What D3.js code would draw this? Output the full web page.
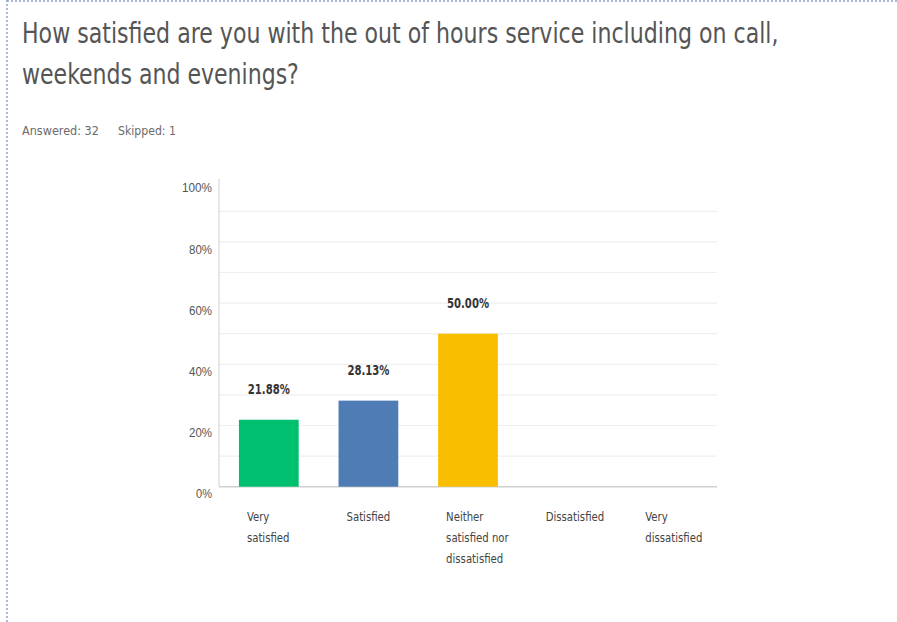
<!DOCTYPE html>
<html><head><meta charset="utf-8">
<script src="https://cdn.jsdelivr.net/npm/d3@7"></script>
<style>
html,body{margin:0;padding:0;background:#fff;}
svg{display:block;font-family:"Liberation Sans Narrow","DejaVu Sans Condensed","Roboto",sans-serif;}
</style></head><body>
<svg id="c" width="897" height="622"></svg>
<script>
const categories = [["Very","satisfied"],["Satisfied"],["Neither","satisfied nor","dissatisfied"],["Dissatisfied"],["Very","dissatisfied"]];
const values = [21.88, 28.13, 50.00, 0, 0];
const colors = ["#00bf6f","#507cb6","#f9be00","#6bc8cd","#ff8b4f"];
const tickValues = [0,20,40,60,80,100];
const gridValues = [10,20,30,40,50,60,70,80,90];
const titleLines = ["How satisfied are you with the out of hours service including on call,","weekends and evenings?"];
const meta = ["Answered: 32","Skipped: 1"];

const svg = d3.select("#c");
// dotted frame
svg.append("line").attr("x1",7).attr("x2",897).attr("y1",1).attr("y2",1)
  .attr("stroke","#8ea3c6").attr("stroke-width",1.5).attr("stroke-dasharray","2,2");
svg.append("line").attr("x1",7).attr("x2",7).attr("y1",0).attr("y2",622)
  .attr("stroke","#8ea3c6").attr("stroke-width",1.5).attr("stroke-dasharray","2,2");

// text squeezed horizontally to a target width via a transform
function fitText(str, xPos, yPos, size, width, fill){
  const g = svg.append("g");
  const t = g.append("text").attr("x",0).attr("y",0).attr("font-size",size).attr("fill",fill).text(str);
  const w = t.node().getComputedTextLength();
  g.attr("transform",`translate(${xPos},${yPos}) scale(${Math.min(1,width/w)},1)`);
  return t;
}
fitText(titleLines[0],22,43,29,757,"#555");
fitText(titleLines[1],22,84,29,277,"#555");
fitText(meta[0],22,135,12.5,77,"#6b6b6b");
fitText(meta[1],118,135,12.5,58,"#6b6b6b");

const x0 = 219, x1 = 717, yTop = 180.7, yBot = 486.7;
const x = d3.scaleBand().domain(d3.range(categories.length)).range([x0,x1]).paddingInner(0.4).paddingOuter(0.2);
const y = d3.scaleLinear().domain([0,100]).range([yBot,yTop]);

// gridlines
svg.append("g").selectAll("line").data(gridValues).join("line")
  .attr("x1",x0).attr("x2",x1).attr("y1",d=>y(d)).attr("y2",d=>y(d))
  .attr("stroke","#efefef").attr("stroke-width",1.2);

// y axis
const yAxis = d3.axisLeft(y).tickValues(tickValues).tickFormat(d=>d+"%").tickSize(0).tickPadding(7);
const ga = svg.append("g").attr("transform",`translate(${x0},0)`).call(yAxis);
ga.select(".domain").remove();
ga.selectAll("text").attr("font-size",12.5).attr("fill","#555").attr("dy","0.9em")
  .style("font-family","inherit").attr("textLength",function(){return this.textContent.length===4?30:(this.textContent.length===3?23:16);})
  .attr("lengthAdjust","spacingAndGlyphs");
svg.append("line").attr("x1",x0).attr("x2",x0).attr("y1",179).attr("y2",yBot).attr("stroke","#d0d0d0").attr("stroke-width",1);
svg.append("line").attr("x1",x0).attr("x2",x1).attr("y1",yBot).attr("y2",yBot).attr("stroke","#d0d0d0").attr("stroke-width",1.5);

// bars
svg.append("g").selectAll("rect").data(values).join("rect")
  .attr("x",(d,i)=>x(i)).attr("width",x.bandwidth())
  .attr("y",d=>y(d)).attr("height",d=>yBot-y(d)).attr("fill",(d,i)=>colors[i]);

// value labels
svg.append("g").selectAll("text").data(values.map((v,i)=>({v,i})).filter(d=>d.v>0)).join("text")
  .attr("x",d=>x(d.i)+x.bandwidth()/2).attr("y",d=>y(d.v)-26)
  .attr("text-anchor","middle").attr("font-size",14).attr("fill","#333").attr("font-weight",600)
  .attr("textLength",42).attr("lengthAdjust","spacingAndGlyphs")
  .text(d=>d.v.toFixed(2)+"%");

// category labels
const cg = svg.append("g");
categories.forEach((lines,i)=>{
  const t = cg.append("text").attr("x",x(i)+8).attr("y",521).attr("font-size",12.5).attr("fill","#444");
  lines.forEach((l,j)=>{
    const ts = t.append("tspan").attr("x",x(i)+8).attr("dy",j===0?0:21).text(l);
    const w = ts.node().getComputedTextLength();
    ts.attr("textLength",w*0.9).attr("lengthAdjust","spacingAndGlyphs");
  });
});
</script>
</body></html>
